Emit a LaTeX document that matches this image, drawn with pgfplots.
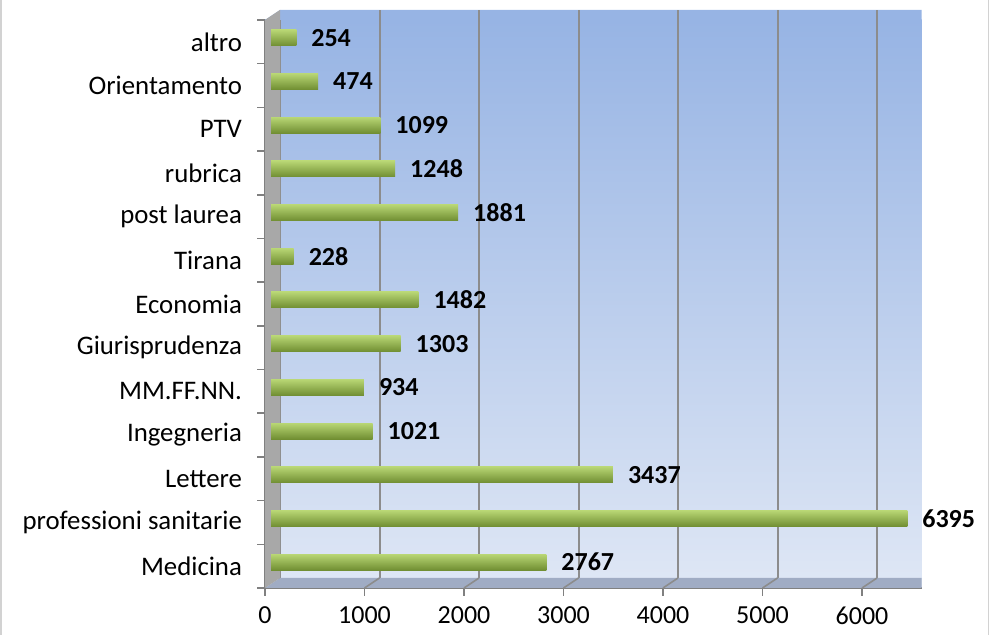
\documentclass[border=0pt]{standalone}
\usepackage{pgfplots}
\pgfplotsset{compat=1.18}
\usepackage{fontspec}
\setmainfont{Carlito}
\definecolor{bgtop}{RGB}{151,180,228}
\definecolor{bgbot}{RGB}{223,231,245}
\definecolor{gridcol}{RGB}{140,140,140}
\definecolor{floorcol}{RGB}{160,172,196}
\definecolor{wallcol}{RGB}{168,168,168}
\definecolor{barlight}{RGB}{184,214,116}
\definecolor{barmid}{RGB}{162,198,90}
\definecolor{bardark}{RGB}{112,142,50}
\newcommand\cbar[2]{\addplot[bar shift=0pt, xshift=3pt, yshift=2pt, draw=none, top color=barlight, middle color=barmid, bottom color=bardark] coordinates {(#1,#2)};}
\begin{document}
\begin{tikzpicture}
\useasboundingbox (0,0) rectangle (497pt,317.5pt);
\draw[gray!35, line width=0.8pt] (0.6pt,-3pt) rectangle (494.2pt,330pt);
\begin{axis}[
  at={(132.5pt,23.5pt)}, anchor=south west,
  scale only axis, width=328.35pt, height=284pt,
  xbar, bar width=8pt,
  xmin=0, xmax=6600, ymin=-0.5, ymax=12.5,
  axis background/.style={top color=bgtop, bottom color=bgbot},
  xmajorgrids, grid style={gridcol, line width=1pt, xshift=7.5pt},
  xtick={0,1000,...,6000},
  ytick={-0.5,0.5,...,12.5},
  yticklabels={{},Medicina,professioni sanitarie,Lettere,Ingegneria,MM.FF.NN.,Giurisprudenza,Economia,Tirana,post laurea,rubrica,PTV,Orientamento,altro},
  yticklabel style={yshift=-10.92pt, xshift=-4pt, font=\fontsize{13.4}{15}\selectfont},
  xticklabel style={yshift=-2pt},
  axis x line*=bottom, axis y line*=left,
  axis line style={gray, line width=0.8pt},
  tick align=outside, major tick length=4pt,
  tick style={gray, line width=0.8pt},
  tick label style={font=\fontsize{13}{15}\selectfont, text=black},
  /pgf/number format/1000 sep={},
  /pgf/number format/assume math mode=true,
  scaled ticks=false,
  nodes near coords,
  nodes near coords style={font=\fontsize{13}{15}\selectfont\bfseries, anchor=west, xshift=4pt},
  clip=false,
]
\fill[bgtop] (axis cs:0,12.5) -- ([xshift=7.5pt,yshift=5pt]axis cs:0,12.5) -- ([yshift=5pt]axis cs:6600,12.5) -- (axis cs:6600,12.5) -- cycle;
\pgfplotsinvokeforeach{1000,2000,3000,4000,5000,6000}{\draw[gridcol, line width=1pt] ([xshift=7.5pt]axis cs:#1,12.5) -- ([xshift=7.5pt,yshift=5pt]axis cs:#1,12.5);}
\fill[floorcol] (axis cs:0,-0.5) -- (axis cs:6600,-0.5) -- ([yshift=5pt]axis cs:6600,-0.5) -- ([xshift=7.5pt,yshift=5pt]axis cs:0,-0.5) -- cycle;
\pgfplotsinvokeforeach{1000,2000,3000,4000,5000,6000}{\draw[gridcol, line width=0.8pt] (axis cs:#1,-0.5) -- ([xshift=7.5pt,yshift=5pt]axis cs:#1,-0.5);}
\fill[wallcol] (axis cs:0,-0.5) -- ([xshift=7.5pt,yshift=5pt]axis cs:0,-0.5) -- ([xshift=7.5pt,yshift=5pt]axis cs:0,12.5) -- (axis cs:0,12.5) -- cycle;
\cbar{2767}{0}
\cbar{6395}{1}
\cbar{3437}{2}
\cbar{1021}{3}
\cbar{934}{4}
\cbar{1303}{5}
\cbar{1482}{6}
\cbar{228}{7}
\cbar{1881}{8}
\cbar{1248}{9}
\cbar{1099}{10}
\cbar{474}{11}
\cbar{254}{12}
\end{axis}
\end{tikzpicture}
\end{document}
